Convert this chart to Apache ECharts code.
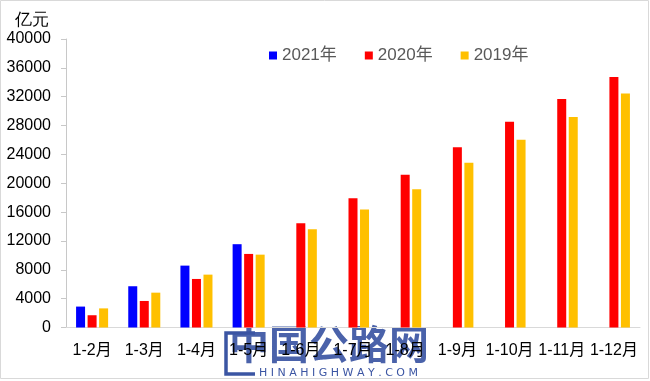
<!DOCTYPE html>
<html>
<head>
<meta charset="utf-8">
<script src="https://cdn.jsdelivr.net/npm/echarts@6/dist/echarts.min.js"></script>
<style>html,body{margin:0;padding:0;background:#fff}#c{width:650px;height:381px}</style>
</head>
<body>
<div id="c"></div>
<script>
const categories = ['1-2月','1-3月','1-4月','1-5月','1-6月','1-7月','1-8月','1-9月','1-10月','1-11月','1-12月'];
const s2021 = [2900, 5720, 8580, 11550, null, null, null, null, null, null, null];
const s2020 = [1700, 3680, 6730, 10200, 14460, 17930, 21170, 25000, 28520, 31670, 34720];
const s2019 = [2650, 4830, 7330, 10100, 13630, 16350, 19180, 22830, 26020, 29200, 32450];
const seriesNames = ['2021年','2020年','2019年'];
const colors = ['#0000ff','#ff0000','#ffc000'];
const unitLabel = '亿元';

const chart = echarts.init(document.getElementById('c'), null, {renderer:'canvas'});
const font = '"Liberation Sans", Arial, "Noto Sans CJK SC", sans-serif';
const mk = (name, data, color) => ({
  name, type:'bar', data, barWidth:9, barGap:'28%',
  itemStyle:{color}
});
chart.setOption({
  animation:false,
  textStyle:{fontFamily:font},
  grid:{left:66, right:10, top:39, bottom:53.5, containLabel:false},
  legend:{
    left:264, top:42, itemWidth:8, itemHeight:8, itemGap:28,
    icon:'rect',
    textStyle:{fontSize:17, color:'#595959', fontFamily:font},
    data:seriesNames
  },
  xAxis:{
    type:'category', data:categories,
    axisLine:{lineStyle:{color:'#d9d9d9', width:1}},
    axisTick:{show:false},
    axisLabel:{fontSize:16, color:'#000', margin:15, interval:0, fontFamily:font}
  },
  yAxis:{
    type:'value', min:0, max:40000, interval:4000,
    axisLine:{show:true, lineStyle:{color:'#c8c8c8'}},
    axisTick:{show:true, length:5, inside:false, lineStyle:{color:'#c8c8c8'}},
    splitLine:{show:false},
    axisLabel:{fontSize:16, color:'#000', margin:15, fontFamily:font, formatter:v => String(v)}
  },
  graphic:[
    {type:'rect', shape:{x:0.5,y:0.5,width:648,height:378}, style:{fill:null, stroke:'#d9d9d9', lineWidth:1}, silent:true},
    {type:'text', left:15, top:12, style:{text:unitLabel, fontSize:17, fill:'#000', font:'17px '+font}},
    {type:'group', z:100, children:[
      {type:'polyline', shape:{points:[[255,333],[226,333],[226,374],[255,374]]}, style:{stroke:'#3b55a3', lineWidth:3.5, fill:null}},
      {type:'text', x:229, y:324, style:{text:'中国公路网', font:'bold 40px "Noto Sans CJK SC", sans-serif', fill:'#3b55a3', opacity:0.92}},
      {type:'text', x:259, y:368, style:{text:'H I N A H I G H W A Y . C O M', font:'11px "DejaVu Sans", sans-serif', fill:'#3b55a3'}}
    ]}
  ],
  series:[mk(seriesNames[0], s2021, colors[0]), mk(seriesNames[1], s2020, colors[1]), mk(seriesNames[2], s2019, colors[2])]
});
</script>
</body>
</html>
